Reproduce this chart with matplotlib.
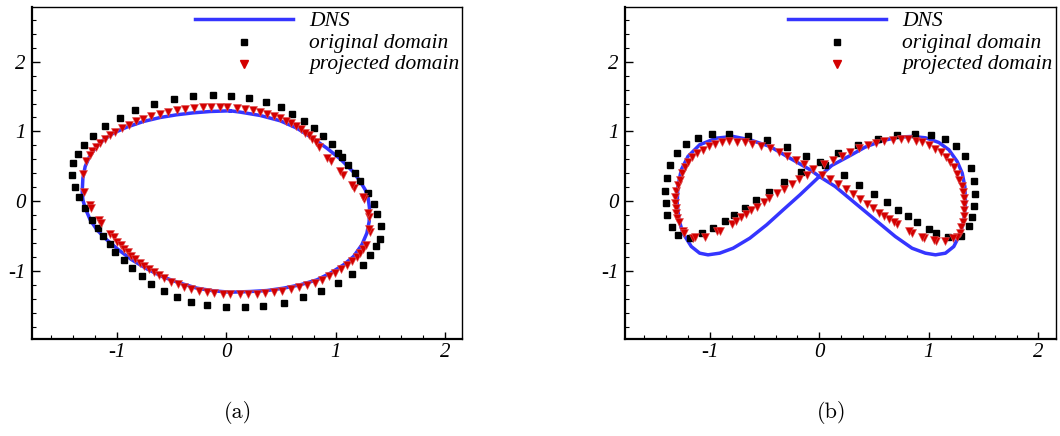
import matplotlib
matplotlib.use("Agg")
import matplotlib.pyplot as plt
from matplotlib.ticker import MultipleLocator

# ---------------------------------------------------------------
# Panel (a): closed orbit
# ---------------------------------------------------------------
dns_a_x = [0.037, -0.146, -0.299, -0.451, -0.603, -0.756, -0.908, -1.030, -1.121, -1.197,
           -1.249, -1.289, -1.310, -1.316, -1.310, -1.289, -1.243, -1.182, -1.091, -0.984,
           -0.862, -0.725, -0.573, -0.420, -0.268, -0.116, 0.037, 0.219, 0.372, 0.524,
           0.676, 0.829, 0.951, 1.073, 1.164, 1.240, 1.286, 1.307, 1.310, 1.298,
           1.271, 1.225, 1.164, 1.042, 0.920, 0.798, 0.646, 0.494, 0.311, 0.128, 0.037]
dns_a_y = [1.296, 1.286, 1.267, 1.239, 1.200, 1.143, 1.062, 0.976, 0.880, 0.760,
           0.641, 0.497, 0.330, 0.139, 0.019, -0.100, -0.268, -0.411, -0.555, -0.698,
           -0.842, -0.971, -1.090, -1.176, -1.248, -1.286, -1.306, -1.296, -1.282, -1.248,
           -1.200, -1.129, -1.033, -0.913, -0.794, -0.626, -0.459, -0.292, -0.100, 0.043,
           0.163, 0.282, 0.416, 0.607, 0.760, 0.894, 1.047, 1.153, 1.229, 1.277, 1.296]

orig_a_x = [-0.299, -0.116, 0.046, 0.213, 0.360, 0.500, 0.606, 0.707, 0.804, 0.887,
            0.963, 1.024, 1.063, 1.118, 1.173, 1.219, 1.292, 1.347, 1.383, 1.411,
            1.402, 1.374, 1.316, 1.249, 1.146, 1.018, 0.871, 0.698, 0.524, 0.341,
            0.168, -0.006, -0.171, -0.326, -0.451, -0.573, -0.683, -0.771, -0.862, -0.938,
            -1.012, -1.066, -1.130, -1.176, -1.231, -1.295, -1.350, -1.386, -1.408, -1.396,
            -1.356, -1.304, -1.222, -1.112, -0.975, -0.829, -0.658, -0.481]
orig_a_y = [1.502, 1.516, 1.502, 1.473, 1.420, 1.349, 1.248, 1.143, 1.043, 0.928,
            0.818, 0.689, 0.631, 0.517, 0.397, 0.287, 0.115, -0.043, -0.187, -0.363,
            -0.536, -0.650, -0.775, -0.918, -1.047, -1.176, -1.291, -1.373, -1.463, -1.502,
            -1.521, -1.521, -1.492, -1.449, -1.373, -1.291, -1.191, -1.076, -0.956, -0.842,
            -0.727, -0.612, -0.497, -0.378, -0.273, -0.100, 0.053, 0.201, 0.373, 0.545,
            0.679, 0.803, 0.933, 1.076, 1.191, 1.310, 1.392, 1.459]

proj_a_x = [0.012, -0.061, -0.137, -0.213, -0.296, -0.375, -0.454, -0.533, -0.606, -0.683,
            -0.756, -0.823, -0.890, -0.951, -1.012, -1.066, -1.112, -1.155, -1.191, -1.225,
            -1.249, -1.280, -1.313, -1.304, -1.249, -1.237, -1.161, -1.143, -1.060, -1.030,
            -0.999, -0.963, -0.932, -0.902, -0.868, -0.832, -0.792, -0.750, -0.710, -0.664,
            -0.612, -0.564, -0.506, -0.445, -0.384, -0.323, -0.253, -0.177, -0.107, -0.030,
            0.037, 0.122, 0.201, 0.280, 0.356, 0.433, 0.512, 0.588, 0.664, 0.737,
            0.810, 0.878, 0.938, 0.999, 1.054, 1.106, 1.152, 1.194, 1.225, 1.255,
            1.274, 1.313, 1.310, 1.307, 1.298, 1.261, 1.249, 1.170, 1.149, 1.066,
            1.042, 0.957, 0.926, 0.850, 0.820, 0.786, 0.753, 0.725, 0.686, 0.637,
            0.591, 0.543, 0.488, 0.433, 0.372, 0.308, 0.241, 0.168, 0.098]
proj_a_y = [1.353, 1.353, 1.353, 1.344, 1.339, 1.320, 1.301, 1.277, 1.253, 1.215,
            1.181, 1.143, 1.086, 1.043, 0.990, 0.942, 0.890, 0.827, 0.780, 0.713,
            0.655, 0.574, 0.387, 0.129, -0.062, -0.100, -0.268, -0.316, -0.469, -0.517,
            -0.579, -0.626, -0.684, -0.732, -0.784, -0.827, -0.885, -0.937, -0.976, -1.023,
            -1.066, -1.105, -1.153, -1.191, -1.229, -1.258, -1.282, -1.306, -1.320, -1.329,
            -1.334, -1.334, -1.329, -1.325, -1.315, -1.301, -1.282, -1.258, -1.229, -1.200,
            -1.167, -1.124, -1.076, -1.028, -0.971, -0.918, -0.861, -0.808, -0.741, -0.684,
            -0.626, -0.445, -0.402, -0.234, -0.172, 0.024, 0.053, 0.182, 0.234, 0.378,
            0.426, 0.569, 0.626, 0.780, 0.842, 0.894, 0.942, 0.980, 1.028, 1.076,
            1.114, 1.153, 1.186, 1.220, 1.253, 1.277, 1.301, 1.320, 1.334]

# ---------------------------------------------------------------
# Panel (b): figure-eight orbit
# ---------------------------------------------------------------
dns_b_x = [0.000, -0.085, -0.269, -0.452, -0.635, -0.788, -0.940, -1.093, -1.200, -1.261,
           -1.292, -1.298, -1.282, -1.246, -1.169, -1.093, -1.017, -0.910, -0.788, -0.635,
           -0.482, -0.330, -0.177, 0.000, 0.113, 0.266, 0.418, 0.571, 0.724, 0.846,
           0.968, 1.090, 1.182, 1.258, 1.304, 1.328, 1.334, 1.319, 1.289, 1.227,
           1.151, 1.060, 0.968, 0.846, 0.693, 0.510, 0.327, 0.144, 0.000]
dns_b_y = [0.354, 0.450, 0.617, 0.785, 0.880, 0.928, 0.904, 0.809, 0.641, 0.450,
           0.211, -0.029, -0.268, -0.459, -0.651, -0.746, -0.770, -0.746, -0.675, -0.531,
           -0.340, -0.124, 0.091, 0.354, 0.512, 0.641, 0.775, 0.866, 0.919, 0.928,
           0.909, 0.842, 0.737, 0.569, 0.402, 0.211, -0.029, -0.268, -0.459, -0.651,
           -0.746, -0.770, -0.746, -0.675, -0.507, -0.268, -0.029, 0.211, 0.354]

orig_b_x = [-1.108, -0.977, -0.824, -0.650, -0.476, -0.296, -0.119, 0.003, 0.052, 0.174,
            0.351, 0.534, 0.705, 0.870, 1.017, 1.145, 1.246, 1.328, 1.383, 1.414,
            1.420, 1.411, 1.392, 1.365, 1.292, 1.173, 1.063, 1.002, 0.892, 0.806,
            0.715, 0.614, 0.495, 0.366, 0.223, -0.168, -0.321, -0.458, -0.577, -0.678,
            -0.779, -0.861, -0.971, -1.072, -1.179, -1.289, -1.347, -1.392, -1.402, -1.411,
            -1.392, -1.365, -1.301, -1.221]
orig_b_y = [0.904, 0.962, 0.962, 0.933, 0.876, 0.775, 0.651, 0.560, 0.517, 0.689,
            0.804, 0.895, 0.952, 0.962, 0.947, 0.890, 0.794, 0.646, 0.474, 0.287,
            0.105, -0.072, -0.230, -0.359, -0.498, -0.507, -0.459, -0.402, -0.301, -0.215,
            -0.129, -0.014, 0.105, 0.230, 0.373, 0.416, 0.273, 0.129, 0.014, -0.096,
            -0.201, -0.287, -0.388, -0.459, -0.531, -0.488, -0.373, -0.201, -0.029, 0.144,
            0.330, 0.517, 0.689, 0.818]

proj_b_x = [-1.307, -1.292, -1.276, -1.255, -1.231, -1.197, -1.160, -1.115, -1.063, -1.008,
            -0.950, -0.892, -0.824, -0.751, -0.681, -0.611, -0.531, -0.452, -0.373, -0.296,
            -0.217, -0.140, -0.055, -1.316, -1.316, -1.313, -1.307, -1.298, -1.285, -1.246,
            -1.234, -1.154, -1.139, -1.041, -0.937, -0.907, -0.797, -0.760, -0.715, -0.669,
            -0.620, -0.568, -0.510, -0.458, -0.388, -0.324, -0.253, -0.183, -0.116, 0.046,
            0.122, 0.205, 0.284, 0.360, 0.440, 0.519, 0.592, 0.669, 0.745, 0.812,
            0.879, 0.940, 1.005, 1.060, 1.111, 1.154, 1.194, 1.227, 1.258, 1.279,
            1.298, 1.307, 1.316, 1.319, 1.319, 1.316, 1.307, 1.295, 1.282, 1.258,
            1.218, 1.148, 1.063, 1.047, 0.959, 0.937, 0.846, 0.815, 0.708, 0.678,
            0.632, 0.586, 0.540, 0.486, 0.434, 0.373, 0.311, 0.244, 0.174, 0.098,
            0.021]
proj_b_y = [0.139, 0.234, 0.306, 0.402, 0.483, 0.560, 0.627, 0.689, 0.737, 0.789,
            0.823, 0.847, 0.856, 0.852, 0.842, 0.823, 0.794, 0.756, 0.708, 0.651,
            0.593, 0.531, 0.459, 0.057, -0.029, -0.100, -0.172, -0.244, -0.306, -0.435,
            -0.459, -0.531, -0.517, -0.507, -0.426, -0.435, -0.330, -0.278, -0.234, -0.182,
            -0.134, -0.081, -0.019, 0.043, 0.110, 0.177, 0.244, 0.316, 0.378, 0.531,
            0.593, 0.651, 0.703, 0.756, 0.799, 0.833, 0.861, 0.876, 0.885, 0.885,
            0.861, 0.842, 0.799, 0.751, 0.699, 0.636, 0.560, 0.483, 0.392, 0.306,
            0.220, 0.134, 0.048, -0.038, -0.124, -0.211, -0.292, -0.373, -0.450, -0.507,
            -0.531, -0.569, -0.569, -0.555, -0.531, -0.517, -0.450, -0.421, -0.330, -0.292,
            -0.254, -0.211, -0.163, -0.105, -0.038, 0.033, 0.105, 0.172, 0.244, 0.316,
            0.378]

tick_vals = [-1, 0, 1, 2]
tick_labels = ['-1', '0', '1', '2']
legend_labels = ['DNS', 'original domain', 'projected domain']

BLUE = '#3535ff'
RED = '#d30000'
TICK_FONT = dict(family='Liberation Serif', style='italic', size=15)
SQ_MS = 4.8
TRI_MS = 5.7


def draw_panel(ax, dns_x, dns_y, orig_x, orig_y, proj_x, proj_y):
    # curves and markers
    ax.plot(dns_x, dns_y, color=BLUE, lw=2.5, solid_joinstyle='round', zorder=2)
    ax.plot(orig_x, orig_y, ls='none', marker='s', ms=SQ_MS, color='black', zorder=3)
    ax.plot(proj_x, proj_y, ls='none', marker='v', ms=TRI_MS, color=RED,
            mec='#e05050', mew=0.4, zorder=4)

    ax.set_xlim(-1.775, 2.16)
    ax.set_ylim(-1.97, 2.78)

    # ticks: inward, only bottom/left
    ax.set_xticks(tick_vals, labels=tick_labels, **TICK_FONT)
    ax.set_yticks(tick_vals, labels=tick_labels, **TICK_FONT)
    ax.xaxis.set_minor_locator(MultipleLocator(0.2))
    ax.yaxis.set_minor_locator(MultipleLocator(0.2))
    ax.tick_params(which='both', direction='in', top=False, right=False, color='black')
    ax.tick_params(which='major', length=5.4, width=1.0)
    ax.tick_params(which='minor', length=3.0, width=0.8)
    ax.tick_params(axis='x', which='major', pad=3.5)
    ax.tick_params(axis='y', which='major', pad=4.5)

    for side in ['left', 'bottom']:
        ax.spines[side].set_linewidth(1.6)
    for side in ['top', 'right']:
        ax.spines[side].set_linewidth(1.0)

    # hand placed legend (text clipped at the frame like the original)
    tr = ax.transAxes
    ax.plot([0.379, 0.606], [0.965, 0.965], color=BLUE, lw=2.5, transform=tr, clip_on=False)
    ax.plot([0.4925], [0.895], ls='none', marker='s', ms=SQ_MS, color='black', transform=tr)
    ax.plot([0.4925], [0.829], ls='none', marker='v', ms=TRI_MS, color=RED, transform=tr)
    for lbl, yy in zip(legend_labels, [0.9435, 0.8786, 0.8137]):
        ax.text(0.643, yy, lbl, transform=tr, family='Liberation Serif', style='italic',
                size=15.5, ha='left', va='baseline', clip_on=True)


fig = plt.figure(figsize=(10.6, 4.36), dpi=100)
ax_a = fig.add_axes([0.0302, 0.2236, 0.4061, 0.7596])
ax_b = fig.add_axes([0.5896, 0.2236, 0.4066, 0.7596])

draw_panel(ax_a, dns_a_x, dns_a_y, orig_a_x, orig_a_y, proj_a_x, proj_a_y)
draw_panel(ax_b, dns_b_x, dns_b_y, orig_b_x, orig_b_y, proj_b_x, proj_b_y)

fig.text(0.2245, 0.055, '(a)', family='cmr10', size=16, ha='center', va='center')
fig.text(0.7850, 0.055, '(b)', family='cmr10', size=16, ha='center', va='center')

fig.savefig('out.png', dpi=100)
